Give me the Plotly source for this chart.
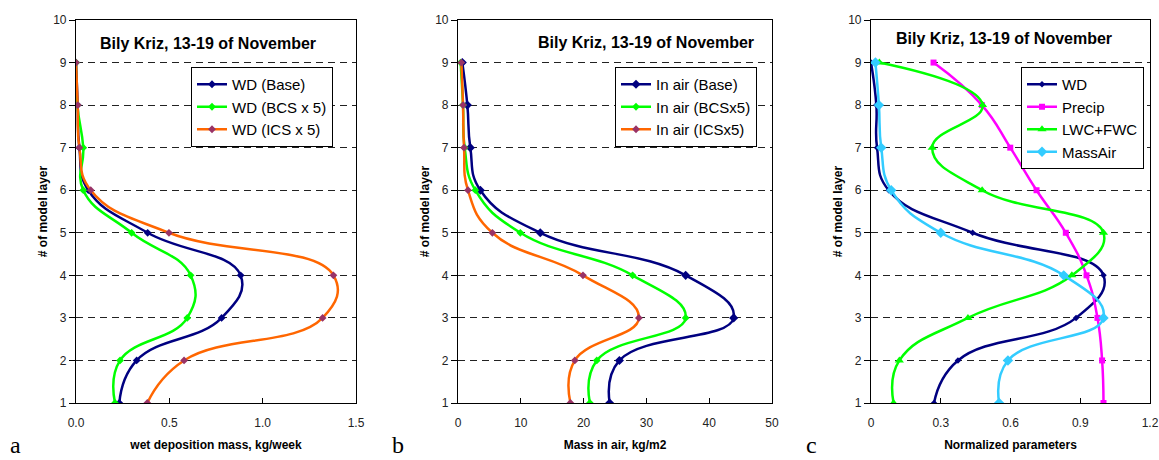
import plotly.graph_objects as go

layers = [1, 2, 3, 4, 5, 6, 7, 8, 9]

# Panel a: wet deposition mass, kg/week
wd_base = [0.232, 0.325, 0.78, 0.882, 0.384, 0.066, 0.018, 0.009, 0.0]
wd_bcs = [0.209, 0.236, 0.596, 0.614, 0.298, 0.039, 0.039, 0.007, 0.0]
wd_ics = [0.382, 0.579, 1.321, 1.379, 0.498, 0.079, 0.018, 0.009, 0.0]

# Panel b: mass in air, kg/m2
air_base = [24.15, 25.7, 43.9, 36.25, 13.1, 3.56, 1.96, 1.49, 0.69]
air_bcs = [21.0, 22.1, 36.25, 27.8, 9.93, 2.76, 1.06, 0.8, 0.42]
air_ics = [17.9, 18.6, 28.8, 19.9, 5.47, 1.59, 0.96, 0.8, 0.53]

# Panel c: normalized parameters
n_wd = [0.271, 0.374, 0.882, 1.0, 0.437, 0.076, 0.026, 0.023, 0.0]
n_precip = [1.0, 0.994, 0.974, 0.927, 0.838, 0.712, 0.599, 0.477, 0.269]
n_lwc = [0.097, 0.122, 0.417, 0.864, 1.0, 0.478, 0.263, 0.48, 0.036]
n_massair = [0.551, 0.589, 1.0, 0.829, 0.3, 0.087, 0.044, 0.034, 0.019]

title_text = "Bily Kriz, 13-19 of November"
ytitle = "# of model layer"

NAVY = "#000080"
GREEN = "#00FF00"
ORANGE = "#FF6600"
PURPLE = "#993366"
MAGENTA = "#FF00FF"
CYAN = "#33CCFF"

fig = go.Figure()


def add(x, name, color, mcolor, symbol, msize, xa, ya, legend):
    fig.add_trace(go.Scatter(
        x=x, y=layers, name=name, mode="lines+markers",
        line=dict(color=color, width=2.5, shape="spline", smoothing=1.3),
        marker=dict(color=mcolor, symbol=symbol, size=msize),
        xaxis=xa, yaxis=ya, legend=legend))


add(wd_base, "WD (Base)", NAVY, NAVY, "diamond", 6, "x", "y", "legend")
add(wd_bcs, "WD (BCS x 5)", GREEN, GREEN, "diamond", 6, "x", "y", "legend")
add(wd_ics, "WD (ICS x 5)", ORANGE, PURPLE, "diamond", 6, "x", "y", "legend")

add(air_base, "In air (Base)", NAVY, NAVY, "diamond", 7, "x2", "y2", "legend2")
add(air_bcs, "In air (BCSx5)", GREEN, GREEN, "diamond", 6, "x2", "y2", "legend2")
add(air_ics, "In air (ICSx5)", ORANGE, PURPLE, "diamond", 6, "x2", "y2", "legend2")

add(n_wd, "WD", NAVY, NAVY, "diamond", 5, "x3", "y3", "legend3")
add(n_precip, "Precip", MAGENTA, MAGENTA, "square", 6, "x3", "y3", "legend3")
add(n_lwc, "LWC+FWC", GREEN, GREEN, "triangle-up", 8, "x3", "y3", "legend3")
add(n_massair, "MassAir", CYAN, CYAN, "diamond", 8, "x3", "y3", "legend3")

W, H = 1159, 460
ybot = (H - 403) / H
ytop = (H - 20) / H
domains = [(76 / W, 356 / W), (458 / W, 772 / W), (871 / W, 1150 / W)]

xcfg = [
    dict(range=[0, 1.5], dtick=0.5, tickformat=".1f", title="wet deposition mass, kg/week"),
    dict(range=[0, 50], dtick=10, title="Mass in air, kg/m2"),
    dict(range=[0, 1.2], dtick=0.3, title="Normalized parameters"),
]

font_tick = dict(family="Liberation Sans, Arial", size=12, color="#222222")
font_title = dict(family="Liberation Sans, Arial", size=12, color="#000000", weight="bold")

layout = dict(
    width=W, height=H,
    margin=dict(l=0, r=0, t=0, b=0, autoexpand=False),
    paper_bgcolor="white", plot_bgcolor="white",
    font=dict(family="Liberation Sans, Arial", color="#000000"),
    showlegend=True,
)

for i in range(3):
    sfx = "" if i == 0 else str(i + 1)
    c = xcfg[i]
    layout["xaxis" + sfx] = dict(
        domain=list(domains[i]), anchor="y" + sfx, range=c["range"], dtick=c["dtick"],
        tickformat=c.get("tickformat"), showgrid=False, zeroline=False,
        showline=True, linecolor="black", linewidth=1.2, mirror=True,
        ticks="inside", ticklen=5, tickcolor="black", tickfont=font_tick,
        ticklabelstandoff=8,
        title=dict(text=c["title"], font=font_title, standoff=12),
        automargin=False, fixedrange=True)
    layout["yaxis" + sfx] = dict(
        domain=[ybot, ytop], anchor="x" + sfx, range=[1, 10], dtick=1,
        showgrid=True, gridcolor="#222222", gridwidth=1, griddash="7px,5px",
        zeroline=False, showline=True, linecolor="black", linewidth=1.2, mirror=True,
        ticks="outside", ticklen=6, tickcolor="black", tickfont=font_tick,
        title=dict(text=ytitle, font=font_title, standoff=2),
        automargin=False, fixedrange=True)

leg_common = dict(
    yanchor="top", bgcolor="white",
    bordercolor="black", borderwidth=1,
    font=dict(family="Liberation Sans, Arial", size=15, color="#000000"),
    itemwidth=30, tracegroupgap=0)
layout["legend"] = dict(x=191 / W, y=(H - 67) / H, xanchor="left", **leg_common)
layout["legend2"] = dict(x=615 / W, y=(H - 67) / H, xanchor="left", **leg_common)
layout["legend3"] = dict(x=1144 / W, y=(H - 67) / H, xanchor="right", **leg_common)

fig.update_layout(**layout)

title_font = dict(family="Liberation Sans, Arial", size=16, color="#000000", weight="bold")
for xc, yc in [(208, 43), (646, 42), (1004, 39)]:
    fig.add_annotation(x=xc / W, y=(H - yc) / H, xref="paper", yref="paper",
                       text=title_text, showarrow=False, font=title_font,
                       xanchor="center", yanchor="middle")

letter_font = dict(family="Liberation Serif, Times New Roman", size=24, color="#000000")
for letter, xl in [("a", 9), ("b", 391), ("c", 805)]:
    fig.add_annotation(x=xl / W, y=1 / H, xref="paper", yref="paper",
                       text=letter, showarrow=False, font=letter_font,
                       xanchor="left", yanchor="bottom", borderpad=0)

fig.write_html("out.html", config={"displayModeBar": False},
               post_script="document.body.style.margin='0';document.body.style.overflow='hidden';")
